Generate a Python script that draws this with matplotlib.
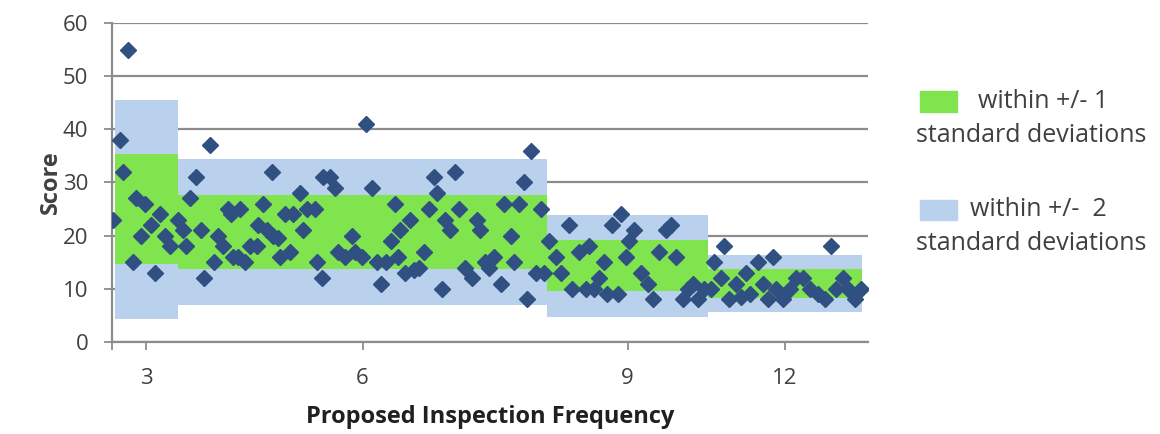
import numpy as np
import matplotlib
matplotlib.use("Agg")
import matplotlib.pyplot as plt
from matplotlib.patches import Rectangle

# proposed inspection frequency groups (tick labels)
frequencies = [3, 6, 9, 12]

# band edges on the observation axis (observation order)
group_edges = [0.6, 16.1, 106.1, 145.4, 183.0]

# group mean and standard deviation of score
group_mean = [25.0, 20.7, 14.3, 11.0]
group_sd = [10.3, 6.9, 4.8, 2.7]

# observations: position along the axis and score, per frequency group
pos_3 = [0.2, 2.0, 2.7, 3.9, 5.1, 5.9, 7.1, 8.0, 9.5, 10.5, 11.7, 12.9, 14.1]
score_3 = [23, 38, 32, 55, 15, 27, 20, 26, 22, 13, 24, 20, 18]

pos_6 = [16.1, 17.3, 18.0, 19.0, 20.5, 21.7, 22.4, 23.9, 24.9, 25.9, 27.1, 28.3,
         29.0, 29.5, 30.7, 31.2, 32.4, 33.7, 35.4, 35.6, 36.8, 37.8, 39.0, 39.3,
         40.5, 41.0, 42.2, 43.4, 44.1, 45.9, 46.6, 47.6, 49.5, 50.0, 51.2, 51.5,
         53.2, 54.4, 55.1, 56.8, 58.5, 59.3, 61.0, 62.0, 63.4, 64.6, 65.6, 66.8,
         68.0, 69.0, 69.8, 70.2, 71.5, 72.7, 73.7, 74.9, 76.1, 77.3, 78.5, 79.3,
         80.5, 81.2, 82.4, 83.7, 84.6, 86.1, 87.8, 89.0, 89.8, 91.0, 92.0, 93.2,
         94.9, 95.6, 97.3, 98.0, 99.3, 100.5, 101.2, 102.2, 103.4, 104.6, 105.4]
score_6 = [23, 21, 18, 27, 31, 21, 12, 37, 15, 20, 18, 25,
           24, 16, 16, 25, 15, 18, 18, 22, 26, 21, 32, 20,
           19.5, 16, 24, 17, 24, 28, 21, 25, 25, 15, 12, 31,
           31, 29, 17, 16, 20, 17, 16, 41, 29, 15, 11, 15,
           19, 26, 16, 21, 13, 23, 13.5, 14, 17, 25, 31, 28,
           10, 23, 21, 32, 25, 14, 12, 23, 21, 15, 14, 16,
           11, 26, 20, 15, 26, 30, 8, 36, 13, 25, 13]

pos_9 = [106.6, 108.3, 109.5, 111.5, 112.2, 113.9, 115.6, 116.3, 117.6, 118.8,
         120.0, 120.7, 122.0, 123.4, 124.1, 125.4, 126.1, 127.3, 129.0, 130.7,
         132.0, 133.4, 135.1, 136.3, 137.6, 139.3, 140.5, 141.7, 142.9, 144.4]
score_9 = [19, 16, 13, 22, 10, 17, 10, 18, 10, 12,
           15, 9, 22, 9, 24, 16, 19, 21, 13, 11,
           8, 17, 21, 22, 16, 8, 10, 11, 8, 10]

pos_12 = [146.1, 146.8, 148.5, 149.3, 150.5, 152.2, 153.4, 154.6, 155.6, 157.6,
          158.8, 160.0, 161.2, 162.0, 163.7, 165.4, 166.8, 168.5, 170.2, 172.2,
          173.9, 175.4, 176.6, 178.3, 179.5, 181.2, 182.7]
score_12 = [10, 15, 12, 18, 8, 11, 8.5, 13, 9, 15,
            11, 8, 16, 10, 8, 10, 12, 12, 10, 9,
            8, 18, 10, 12, 10, 8, 10]

green = "#7FE44E"
blue = "#B9D1EC"
marker_col = "#2F5080"
grid_col = "#8C8C8C"
text_col = "#404040"

plt.rcParams['font.family'] = ['Open Sans', 'DejaVu Sans']

fig = plt.figure(figsize=(11.6, 4.34), dpi=100)
ax = fig.add_axes([0.0966, 0.212, 0.652, 0.735])

# step bands: +/- 2 sd behind +/- 1 sd
edges = np.array(group_edges)
mean = np.array(group_mean)
sd = np.array(group_sd)
xs = np.repeat(edges, 2)[1:-1]
for k, col in [(2, blue), (1, green)]:
    lo = np.repeat(mean - k * sd, 2)
    hi = np.repeat(mean + k * sd, 2)
    ax.fill_between(xs, lo, hi, color=col, lw=0, zorder=1 if k == 2 else 2)

all_pos = pos_3 + pos_6 + pos_9 + pos_12
all_score = score_3 + score_6 + score_9 + score_12
ax.plot(all_pos, all_score, ls='none', marker='D', ms=8, color=marker_col,
        mec=marker_col, zorder=3)

ax.set_xlim(0, 184.5)
ax.set_ylim(0, 60)
ax.set_yticks(range(0, 61, 10))
centers = (edges[:-1] + edges[1:]) / 2
ax.set_xticks(centers)
ax.set_xticklabels([str(f) for f in frequencies])
ax.set_xticks([0], minor=True)

ax.grid(axis='y', color=grid_col, lw=1.6, zorder=0)
ax.set_axisbelow(True)
for s in ['top', 'right']:
    ax.spines[s].set_visible(False)
for s in ['left', 'bottom']:
    ax.spines[s].set_color(grid_col)
    ax.spines[s].set_linewidth(1.6)

ax.tick_params(axis='both', which='both', color=grid_col, width=1.3, length=6,
               labelsize=16, labelcolor=text_col)
ax.tick_params(axis='y', pad=11)
ax.tick_params(axis='x', pad=13)

ax.set_ylabel('Score', fontsize=17, fontweight='bold', color=text_col, labelpad=0)
ax.set_xlabel('Proposed Inspection Frequency', fontsize=17, fontweight='bold',
              color='#202020', labelpad=11)

# legend drawn next to the plot
fs_leg = 18
fig.patches.append(Rectangle((920 / 1160, 1 - 112 / 434), 37 / 1160, 21 / 434,
                             transform=fig.transFigure, color=green))
fig.text(978 / 1160, 1 - 101 / 434, 'within +/- 1', fontsize=fs_leg, color=text_col,
         va='center')
fig.text(916 / 1160, 1 - 136 / 434, 'standard deviations', fontsize=fs_leg,
         color=text_col, va='center')
fig.patches.append(Rectangle((920 / 1160, 1 - 220 / 434), 37 / 1160, 20 / 434,
                             transform=fig.transFigure, color=blue))
fig.text(970 / 1160, 1 - 209 / 434, 'within +/-  2', fontsize=fs_leg, color=text_col,
         va='center')
fig.text(916 / 1160, 1 - 244 / 434, 'standard deviations', fontsize=fs_leg,
         color=text_col, va='center')

fig.savefig('out.png', dpi=100)
